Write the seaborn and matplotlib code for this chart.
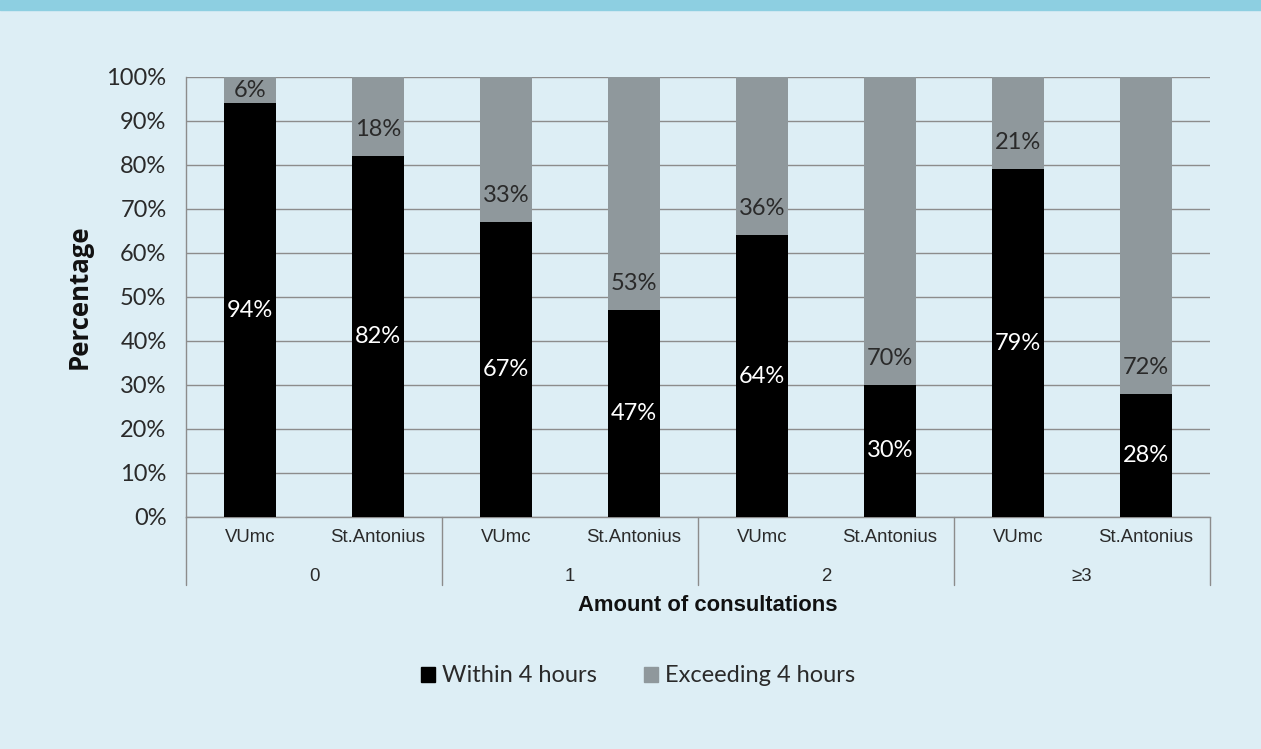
import pandas as pd
import matplotlib.pyplot as plt
import seaborn as sns
from matplotlib.patches import Rectangle, Patch

groups = ["0", "1", "2", "≥3"]
hospitals = ["VUmc", "St.Antonius"]
within = [94, 82, 67, 47, 64, 30, 79, 28]
exceeding = [6, 18, 33, 53, 36, 70, 21, 72]

slots = [f"{g}|{h}" for g in groups for h in hospitals]
df = pd.DataFrame({"slot": slots, "within": within, "exceeding": exceeding})
df["total"] = df["within"] + df["exceeding"]

bg = "#DDEEF5"
black = "#000000"
grey = "#8F989C"
line_col = "#8C8C8C"
txt = "#2A2A2A"

sns.set_theme(style="white")
plt.rcParams["font.family"] = ["Lato", "DejaVu Sans"]

fig = plt.figure(figsize=(12.61, 7.49), dpi=100, facecolor=bg)
ax = fig.add_axes([0.1475, 0.3098, 0.8121, 0.5874])
ax.set_facecolor(bg)
fig.patches.append(Rectangle((0, 1 - 10 / 749), 1, 10 / 749, transform=fig.transFigure,
                             color="#8DCFE1", zorder=0))

# stacked bars: grey total first, black part on top
sns.barplot(data=df, x="slot", y="total", order=slots, color=grey, width=0.41,
            saturation=1, linewidth=0, ax=ax, zorder=3)
sns.barplot(data=df, x="slot", y="within", order=slots, color=black, width=0.41,
            saturation=1, linewidth=0, ax=ax, zorder=4)

ax.set_xlim(-0.5, 7.5)
ax.set_ylim(0, 100)
ax.set_yticks(range(0, 101, 10))
ax.set_yticklabels([f"{v}%" for v in range(0, 101, 10)], fontsize=17, color=txt)
ax.yaxis.grid(True, color=line_col, linewidth=1)
ax.set_axisbelow(True)
ax.tick_params(axis="y", length=0, pad=14)
ax.set_xticks([])
ax.set_xlabel("")
ax.set_ylabel("")
for s in ["top", "right"]:
    ax.spines[s].set_visible(False)
for s in ["left", "bottom"]:
    ax.spines[s].set_color(line_col)
    ax.spines[s].set_linewidth(1)

# data labels: black part centred, grey part near its base
for i, (w, e) in enumerate(zip(within, exceeding)):
    ax.text(i, w / 2, f"{w}%", ha="center", va="center", color="white",
            fontsize=17, zorder=5)
    ax.text(i, w + min(e / 2, 6), f"{e}%", ha="center", va="center", color=txt,
            fontsize=17, zorder=5)

# hierarchical x axis
px = 1 / 440
trans = ax.get_xaxis_transform()
for i, s in enumerate(slots):
    ax.text(i, -21 * px, s.split("|")[1], transform=trans, ha="center", va="center",
            fontsize=13.4, family="Liberation Sans", color=txt)
for j, g in enumerate(groups):
    ax.text(2 * j + 0.5, -60 * px, g, transform=trans, ha="center", va="center",
            fontsize=13.4, family="Liberation Sans", color=txt)
for b in [-0.5, 1.5, 3.5, 5.5, 7.5]:
    ax.plot([b, b], [0, -68 * px], transform=trans, color=line_col, linewidth=1,
            clip_on=False)

ax.text(0.5 + 10 / 1024, -89 * px, "Amount of consultations", transform=ax.transAxes,
        ha="center", va="center", fontsize=15.8, fontweight="bold",
        family="Liberation Sans", color="#111111")
fig.text(0.063, 0.604, "Percentage", rotation=90, ha="center", va="center",
         fontsize=18.5, fontweight="bold", family="Open Sans", color="#111111")

handles = [Patch(color=black, label="Within 4 hours"),
           Patch(color=grey, label="Exceeding 4 hours")]
fig.legend(handles=handles, loc="center", bbox_to_anchor=(0.506, 0.0975), ncol=2,
           frameon=False, fontsize=17, handlelength=0.6, handleheight=0.6,
           handletextpad=0.3, columnspacing=2.0, labelcolor=txt)

fig.savefig("out.png", dpi=100, facecolor=bg)
